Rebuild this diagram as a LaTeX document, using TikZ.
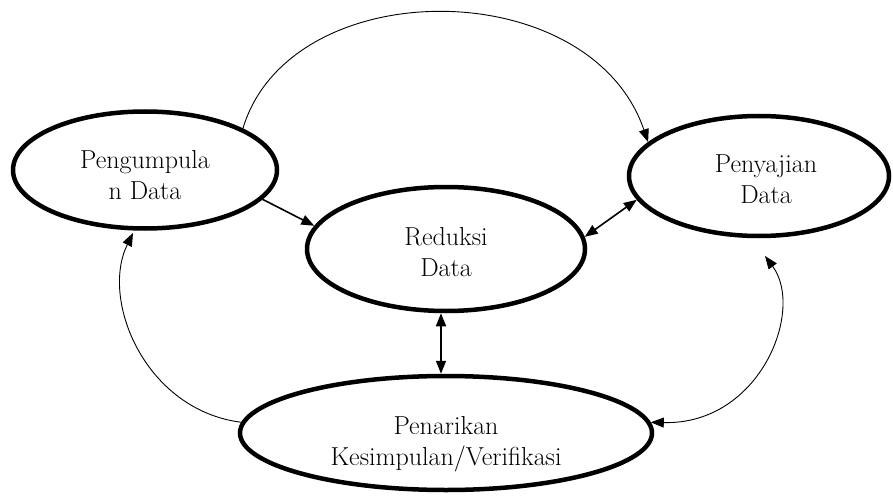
\documentclass[tikz,border=0pt]{standalone}
\usepackage{fontspec}
\usetikzlibrary{shapes.geometric,arrows.meta}
\begin{document}
\begin{tikzpicture}[x=1pt,y=-1pt,
  stage/.style={ellipse,draw,line width=4.5pt,inner sep=0pt},
  lbl/.style={align=center,font=\fontsize{26}{31}\selectfont},
  thin/.style={line width=0.9pt},
  mid/.style={line width=1.6pt},
  tip/.style={-{Triangle[length=13pt,width=10pt]}},
  tips/.style={{Triangle[length=13pt,width=10pt]}-{Triangle[length=13pt,width=10pt]}}]
\useasboundingbox (0,0) rectangle (893,497);
\node[stage,minimum width=264pt,minimum height=117pt] (peng) at (145,170) {};
\node[stage,minimum width=260pt,minimum height=120pt] (saji) at (759,176) {};
\node[stage,minimum width=278pt,minimum height=124pt] (red) at (446,249) {};
\node[stage,minimum width=412pt,minimum height=114pt] (pen) at (446,433) {};
\node[lbl] (tpeng) at (145,175) {Pengumpula\\n Data};
\node[lbl] (tsaji) at (766,179) {Penyajian\\Data};
\node[lbl] (tred) at (446,252) {Reduksi\\Data};
\node[lbl] (tpen) at (446,444) {Penarikan\\Kesimpulan/Verifikasi};
\coordinate (pengin) at (133,233);
\coordinate (sajiin) at (765,256);
% connectors
\draw[thin,tip] (peng.23) .. controls (290,-28) and (590,-28) .. (saji.163);
\draw[mid,tip] (peng.-14) -- (red.170);
\draw[mid,tips] (red.5) -- (saji.191);
\draw[mid,tips] ([xshift=-5pt]red.south) -- ([xshift=-5pt]pen.north);
\draw[thin,tip] (pen.177) .. controls (145,410) and (100,300) .. (pengin);
\draw[thin,tips] (pen.3) .. controls (760,425) and (805,310) .. (sajiin);
\end{tikzpicture}
\end{document}
